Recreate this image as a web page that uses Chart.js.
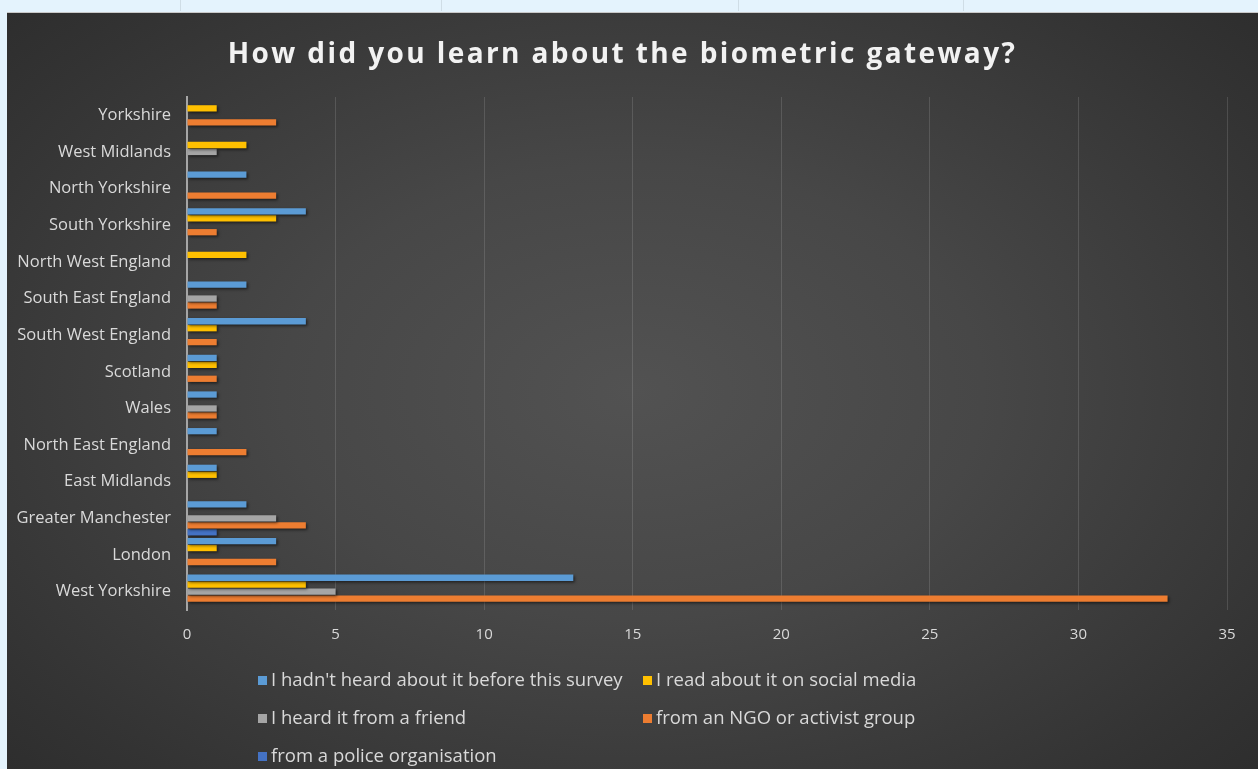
<!DOCTYPE html>
<html>
<head>
<meta charset="utf-8">
<script src="https://cdn.jsdelivr.net/npm/chart.js@4.4.1/dist/chart.umd.min.js"></script>
<style>
  html, body { margin: 0; padding: 0; }
  body { width: 1258px; height: 769px; background: #e4f3fd; position: relative; overflow: hidden; font-family: "Open Sans", sans-serif; }
  .vline { position: absolute; top: 0; height: 11px; width: 1px; background: #cfdde6; }
  #card {
    position: absolute; left: 7px; top: 12px; width: 1251px; height: 757px;
    border-top: 1px solid #c9c9c9;
    background: radial-gradient(ellipse 70% 75% at 50% 50%, #525252 0%, #474747 40%, #333333 85%, #2d2d2d 100%);
  }
  #wrap { position: absolute; left: 0; top: 0; width: 1251px; height: 757px; }
  #titulo { position: absolute; left: -10px; top: 22px; width: 100%; text-align: center; color: #f2f2f2;
    font-family: "Open Sans", sans-serif; font-weight: bold; font-size: 28px; letter-spacing: 2.4px; line-height: 34px; }
  #legend { position: absolute; left: 0; top: 0; width: 100%; height: 100%; pointer-events: none; }
  .item { position: absolute; color: #d9d9d9; font-family: "Open Sans", sans-serif; font-size: 18.5px; white-space: nowrap; line-height: 20px; }
  .item span.box { display: inline-block; width: 9px; height: 9px; margin-right: 4px; vertical-align: 1px; }
</style>
</head>
<body>
<div class="vline" style="left:180px"></div>
<div class="vline" style="left:441px"></div>
<div class="vline" style="left:738px"></div>
<div class="vline" style="left:963px"></div>
<div id="card">
  <div id="wrap"><canvas id="grafica"></canvas></div>
  <div id="titulo">How did you learn about the biometric gateway?</div>
  <div id="legend"></div>
</div>
<script>
const regiones = ["Yorkshire", "West Midlands", "North Yorkshire", "South Yorkshire", "North West England",
  "South East England", "South West England", "Scotland", "Wales", "North East England",
  "East Midlands", "Greater Manchester", "London", "West Yorkshire"];

const series = ["I hadn't heard about it before this survey", "I read about it on social media",
  "I heard it from a friend", "from an NGO or activist group", "from a police organisation"];

const noSabia   = [0, 0, 2, 4, 0, 2, 4, 1, 1, 1, 1, 2, 3, 13];
const redes     = [1, 2, 0, 3, 2, 0, 1, 1, 0, 0, 1, 0, 1, 4];
const amigo     = [0, 1, 0, 0, 0, 1, 0, 0, 1, 0, 0, 3, 0, 5];
const ong       = [3, 0, 3, 1, 0, 1, 1, 1, 1, 2, 0, 4, 3, 33];
const policia   = [0, 0, 0, 0, 0, 0, 0, 0, 0, 0, 0, 1, 0, 0];

const ticksX = [0, 5, 10, 15, 20, 25, 30, 35];
const colores = ["#5b9bd5", "#ffc000", "#a5a5a5", "#ed7d31", "#4472c4"];
const valores = [noSabia, redes, amigo, ong, policia];

const sombra = {
  id: "sombra",
  beforeDatasetsDraw(chart) {
    const ctx = chart.ctx;
    ctx.save();
    ctx.shadowColor = "rgba(0,0,0,0.55)";
    ctx.shadowBlur = 3;
    ctx.shadowOffsetX = 1.5;
    ctx.shadowOffsetY = 1.5;
  },
  afterDatasetsDraw(chart) { chart.ctx.restore(); }
};

const $grafica = document.querySelector("#grafica");
new Chart($grafica, {
  type: "bar",
  data: {
    labels: regiones,
    datasets: series.map((s, i) => ({
      label: s,
      data: valores[i],
      backgroundColor: colores[i],
      borderWidth: 0,
      categoryPercentage: 0.95,
      barPercentage: 0.9
    }))
  },
  options: {
    indexAxis: "y",
    responsive: true,
    maintainAspectRatio: false,
    animation: false,
    layout: { padding: { left: 5, right: 31, top: 84, bottom: 110 } },
    plugins: {
      legend: { display: false },
      tooltip: { enabled: false },
      title: { display: false }
    },
    scales: {
      x: {
        min: 0, max: 35,
        afterBuildTicks(axis) { axis.ticks = ticksX.map(v => ({ value: v })); },
        grid: { color: "rgba(255,255,255,0.13)", drawTicks: false },
        border: { display: false },
        ticks: { color: "#d9d9d9", font: { family: "Open Sans", size: 15 }, padding: 16 }
      },
      y: {
        afterFit(axis) { axis.width = 175; },
        grid: { display: false, drawTicks: false },
        border: { display: true, color: "#a6a6a6", width: 2 },
        ticks: { color: "#d9d9d9", font: { family: "Open Sans", size: 16.5 }, padding: 16 }
      }
    }
  },
  plugins: [sombra]
});

// leyenda en dos columnas como en la hoja de calculo
const posiciones = [[251, 666], [636, 666], [251, 704], [636, 704], [251, 742]];
const $legend = document.querySelector("#legend");
series.forEach((s, i) => {
  const d = document.createElement("div");
  d.className = "item";
  d.style.left = posiciones[i][0] + "px";
  d.style.top = (posiciones[i][1] - 10) + "px";
  d.innerHTML = '<span class="box" style="background:' + colores[i] + '"></span>' + s.replace("'", "&#39;");
  $legend.appendChild(d);
});
</script>
</body>
</html>
